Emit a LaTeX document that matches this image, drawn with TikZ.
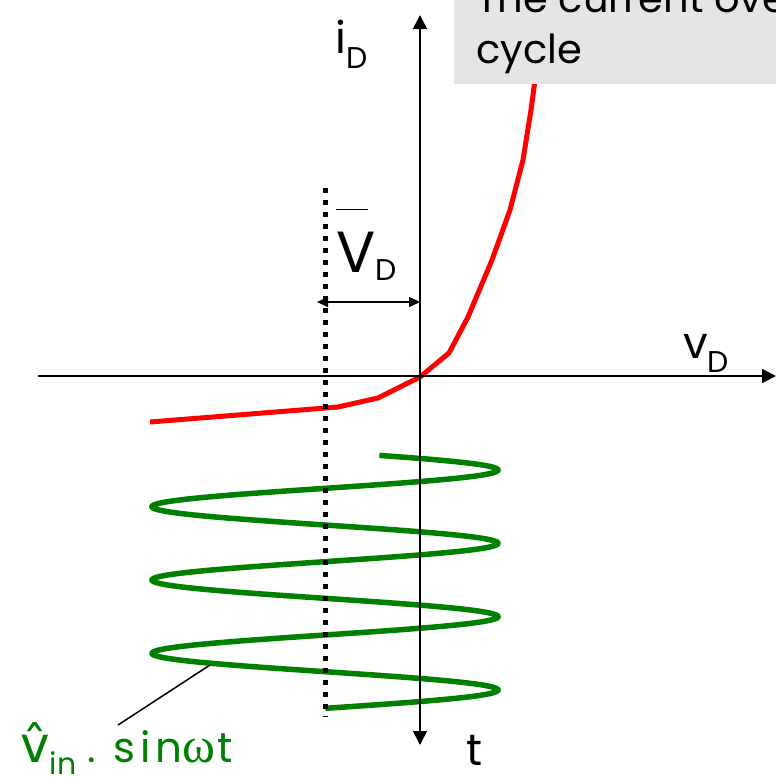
\documentclass[tikz,border=0pt]{standalone}
\usepackage{fontspec}
\setmainfont{Poppins}
\newfontfamily\accfont{DejaVu Sans}
\newfontfamily\greekfont{Liberation Serif}
\newfontfamily\widefont{Poppins}[LetterSpace=12]
\usetikzlibrary{arrows.meta}
\definecolor{curvered}{RGB}{255,0,0}
\definecolor{wavegreen}{RGB}{0,128,0}
\definecolor{boxgray}{RGB}{229,229,229}
\newcommand\mysub[2]{\raisebox{#1}{\fontsize{30}{30}\selectfont #2}}
\begin{document}
\begin{tikzpicture}[x=1pt,y=-1pt,
  axisline/.style={line width=1.5pt},
  bigtip/.style={-{Triangle[length=14pt,width=14pt]}},
  dimline/.style={line width=1.5pt,{Triangle[length=11pt,width=10pt]}-{Triangle[length=11pt,width=10pt]}},
  redcurve/.style={curvered,line width=5pt,line join=round},
  wave/.style={wavegreen,line width=5.5pt},
  dotline/.style={line width=5pt,dash pattern=on 5pt off 7pt},
  lbl/.style={inner sep=0pt,font=\fontsize{44}{51}\selectfont},
  notetext/.style={inner sep=0pt,align=left,font=\fontsize{40}{51}\selectfont}]
\useasboundingbox (0,0) rectangle (776,777);
% coordinates
\coordinate (ytop) at (420,15);
\coordinate (ybot) at (420,745);
\coordinate (xl) at (38,376);
\coordinate (xr) at (776,376);
\coordinate (dl) at (317,302);
\coordinate (dr) at (420,302);
\coordinate (dtop) at (325,188);
\coordinate (dbot) at (325,717);
\coordinate (cw) at (210,665);
\coordinate (cl) at (118,725);
% red diode curve
\draw[redcurve] (150,422) -- (338,407) -- (378,398) -- (420,377) -- (449,353) -- (468,317)
  -- (492,260) -- (510,210) -- (523,160) -- (531,110) -- (535,80) -- (538,60);
% note box
\node[fill=boxgray,minimum width=330pt,minimum height=100pt,inner sep=0pt,anchor=south west] (notebox) at (454,84) {};
\node[notetext,anchor=base west] (note) at (476,63) {The current ove\\cycle};
% green wave
\draw[wave] plot[domain=455.4:708.3,samples=500,variable=\t] ({325+173*sin((\t-470)*4.9093+90)},\t);
% dotted mean line
\draw[dotline] (dtop) -- (dbot);
% axes
\draw[axisline,bigtip] (xl) -- (xr);
\draw[axisline,{Triangle[length=14pt,width=14pt]}-{Triangle[length=14pt,width=14pt]}] (ybot) -- (ytop);
\draw[dimline] (dl) -- (dr);
% labels
\node[lbl,anchor=base west] (iD) at (335,53) {i\mysub{-15pt}{D}};
\node[lbl,anchor=base west] (vD) at (683,358) {v\mysub{-14pt}{D}};
\node[lbl,anchor=base west] (tl) at (466,765) {t};
\node[inner sep=0pt,anchor=base west] (VD) at (336,272) {\fontsize{58}{58}\selectfont\makebox[0pt][l]{\raisebox{62pt}{\rule{32pt}{1.5pt}}}V\mysub{-8pt}{D}};
\node[inner sep=0pt,anchor=base west,text=wavegreen] (vin) at (20,762)
  {{\accfont\fontsize{50}{50}\selectfont v̂}\mysub{-12pt}{in}\fontsize{40}{40}\selectfont{} .\hspace{4pt} {\widefont\fontsize{42}{42}\selectfont sin}{\greekfont\fontsize{50}{50}\selectfont ω}\hspace{2pt}{\fontsize{42}{42}\selectfont t}};
% callout
\draw[line width=1.5pt] (cl) -- (cw);
\end{tikzpicture}
\end{document}
